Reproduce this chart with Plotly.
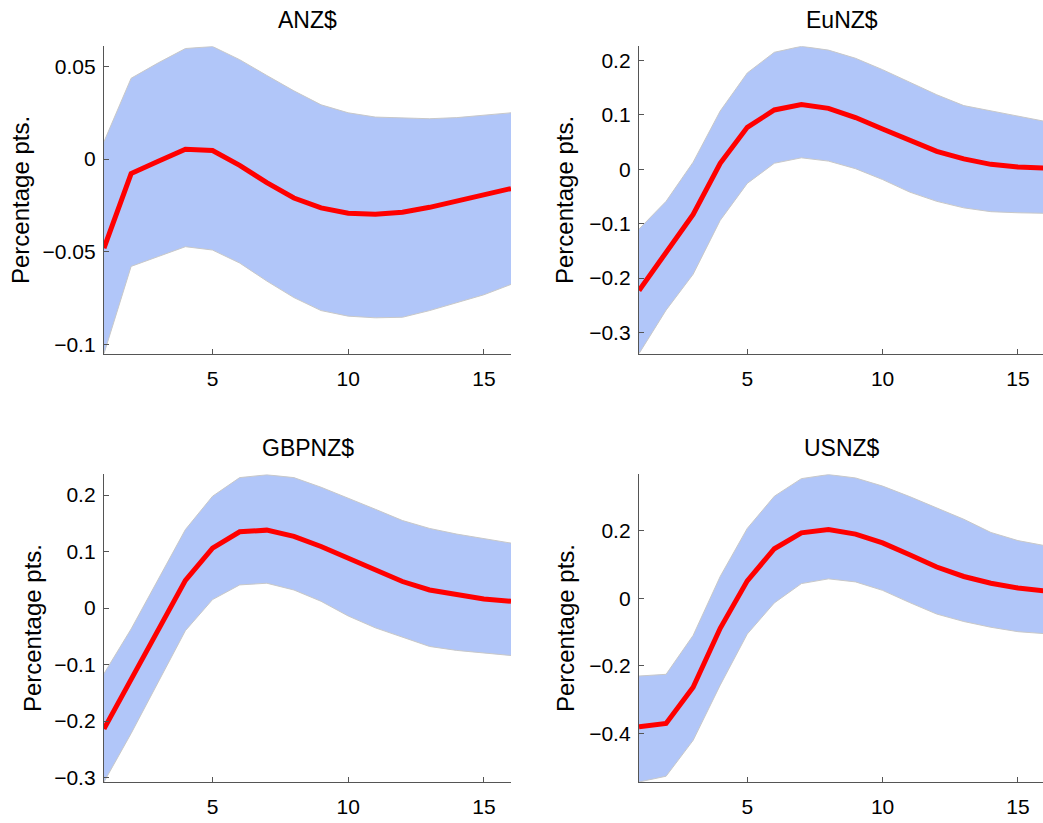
import plotly.graph_objects as go

W, H = 1043, 823
steps = list(range(1, 17))

titles = ["ANZ$", "EuNZ$", "GBPNZ$", "USNZ$"]

anz_mid = [-0.048, -0.0078, -0.0012, 0.0053, 0.0046, -0.0034, -0.0127, -0.021, -0.0263, -0.0292, -0.0297, -0.0286, -0.026, -0.0228, -0.0193, -0.0159]
anz_up = [0.0094, 0.0435, 0.0518, 0.0595, 0.0606, 0.0535, 0.045, 0.0367, 0.0292, 0.0249, 0.0226, 0.0221, 0.0217, 0.0223, 0.0235, 0.0249]
anz_lo = [-0.1048, -0.0578, -0.0525, -0.0472, -0.049, -0.056, -0.0657, -0.0746, -0.0816, -0.0846, -0.0855, -0.0852, -0.0816, -0.0772, -0.0731, -0.0675]

eu_mid = [-0.223, -0.154, -0.083, 0.011, 0.077, 0.109, 0.119, 0.112, 0.095, 0.074, 0.053, 0.033, 0.019, 0.009, 0.004, 0.002]
eu_up = [-0.110, -0.059, 0.013, 0.107, 0.177, 0.215, 0.226, 0.219, 0.204, 0.183, 0.160, 0.137, 0.117, 0.107, 0.097, 0.088]
eu_lo = [-0.339, -0.259, -0.193, -0.094, -0.026, 0.011, 0.021, 0.015, 0.001, -0.019, -0.042, -0.059, -0.071, -0.078, -0.080, -0.081]

gb_mid = [-0.214, -0.127, -0.038, 0.049, 0.106, 0.135, 0.138, 0.127, 0.109, 0.088, 0.066, 0.047, 0.032, 0.023, 0.016, 0.012]
gb_up = [-0.116, -0.037, 0.051, 0.139, 0.198, 0.231, 0.236, 0.231, 0.214, 0.195, 0.175, 0.155, 0.141, 0.131, 0.123, 0.115]
gb_lo = [-0.308, -0.222, -0.131, -0.040, 0.015, 0.041, 0.044, 0.032, 0.012, -0.014, -0.035, -0.052, -0.068, -0.075, -0.080, -0.084]

us_mid = [-0.380, -0.370, -0.263, -0.089, 0.051, 0.146, 0.193, 0.203, 0.189, 0.163, 0.128, 0.092, 0.064, 0.044, 0.030, 0.021]
us_up = [-0.230, -0.225, -0.110, 0.064, 0.206, 0.301, 0.353, 0.365, 0.355, 0.331, 0.300, 0.267, 0.233, 0.194, 0.170, 0.155]
us_lo = [-0.543, -0.526, -0.420, -0.257, -0.106, -0.014, 0.043, 0.057, 0.048, 0.023, -0.013, -0.047, -0.069, -0.086, -0.099, -0.105]

x_ticks = [5, 10, 15]
y_ticks = [
    [-0.1, -0.05, 0, 0.05],
    [-0.3, -0.2, -0.1, 0, 0.1, 0.2],
    [-0.3, -0.2, -0.1, 0, 0.1, 0.2],
    [-0.4, -0.2, 0, 0.2],
]
y_ticktext = [
    ["\u22120.1", "\u22120.05", "0", "0.05"],
    ["\u22120.3", "\u22120.2", "\u22120.1", "0", "0.1", "0.2"],
    ["\u22120.3", "\u22120.2", "\u22120.1", "0", "0.1", "0.2"],
    ["\u22120.4", "\u22120.2", "0", "0.2"],
]
y_ranges = [[-0.1048, 0.0607], [-0.339, 0.226], [-0.308, 0.237], [-0.543, 0.366]]

series = [(anz_lo, anz_mid, anz_up), (eu_lo, eu_mid, eu_up), (gb_lo, gb_mid, gb_up), (us_lo, us_mid, us_up)]

# pixel layout
px_x = [(104, 511), (639, 1045), (104, 511), (639, 1045)]
px_y = [(46.7, 356.7), (46.7, 356.7), (478.3, 788.7), (478.3, 788.7)]
title_y = [20, 20, 452, 452]
ylab_x = [21, 565, 32, 565]

FILL = "rgb(177,198,249)"
EDGE = "rgb(200,200,200)"
AXC = "#555555"
FONT = "Liberation Sans, Arial, Helvetica, sans-serif"

fig = go.Figure()
layout = dict(
    width=W, height=H, margin=dict(l=0, r=0, t=0, b=0),
    paper_bgcolor="white", plot_bgcolor="white", showlegend=False,
    font=dict(family=FONT, color="black", size=21),
)
annotations = []
for i, (lo, mid, up) in enumerate(series):
    k = "" if i == 0 else str(i + 1)
    xa, ya = "x" + k, "y" + k
    fig.add_trace(go.Scatter(x=steps, y=lo, mode="lines", line=dict(color=EDGE, width=1),
                             xaxis=xa, yaxis=ya, hoverinfo="skip"))
    fig.add_trace(go.Scatter(x=steps, y=up, mode="lines", line=dict(color=EDGE, width=1),
                             fill="tonexty", fillcolor=FILL, xaxis=xa, yaxis=ya, hoverinfo="skip"))
    fig.add_trace(go.Scatter(x=steps, y=mid, mode="lines", line=dict(color="#ff0000", width=5),
                             xaxis=xa, yaxis=ya))
    x0, x1 = px_x[i]
    xr1 = 1 + (min(x1, W) - x0) / (x1 - x0) * 15
    y0, y1 = px_y[i]
    layout["xaxis" + k] = dict(
        domain=[x0 / W, min(x1, W) / W], range=[1, xr1], anchor=ya,
        showline=True, linecolor=AXC, linewidth=1.3, showgrid=False, zeroline=False,
        ticks="inside", ticklen=5, tickcolor=AXC, tickvals=x_ticks,
        ticktext=[str(v) for v in x_ticks], tickfont=dict(size=21, color="black"),
        ticklabelstandoff=6,
    )
    layout["yaxis" + k] = dict(
        domain=[1 - y1 / H, 1 - y0 / H], range=y_ranges[i], anchor=xa,
        showline=True, linecolor=AXC, linewidth=1.3, showgrid=False, zeroline=False,
        ticks="inside", ticklen=5, tickcolor=AXC, tickvals=y_ticks[i], ticktext=y_ticktext[i],
        tickfont=dict(size=21, color="black"), ticklabelstandoff=3,
    )
    annotations.append(dict(text=titles[i], x=(x0 + x1) / 2 / W, y=1 - title_y[i] / H,
                            xref="paper", yref="paper", showarrow=False,
                            xanchor="center", yanchor="middle",
                            font=dict(size=23, color="black", family=FONT)))
    annotations.append(dict(text="Percentage pts.", x=ylab_x[i] / W, y=1 - (y0 + y1) / 2 / H,
                            xref="paper", yref="paper", showarrow=False, textangle=-90,
                            xanchor="center", yanchor="middle",
                            font=dict(size=24, color="black", family=FONT)))
layout["annotations"] = annotations
fig.update_layout(**layout)
fig.write_html("out.html")
